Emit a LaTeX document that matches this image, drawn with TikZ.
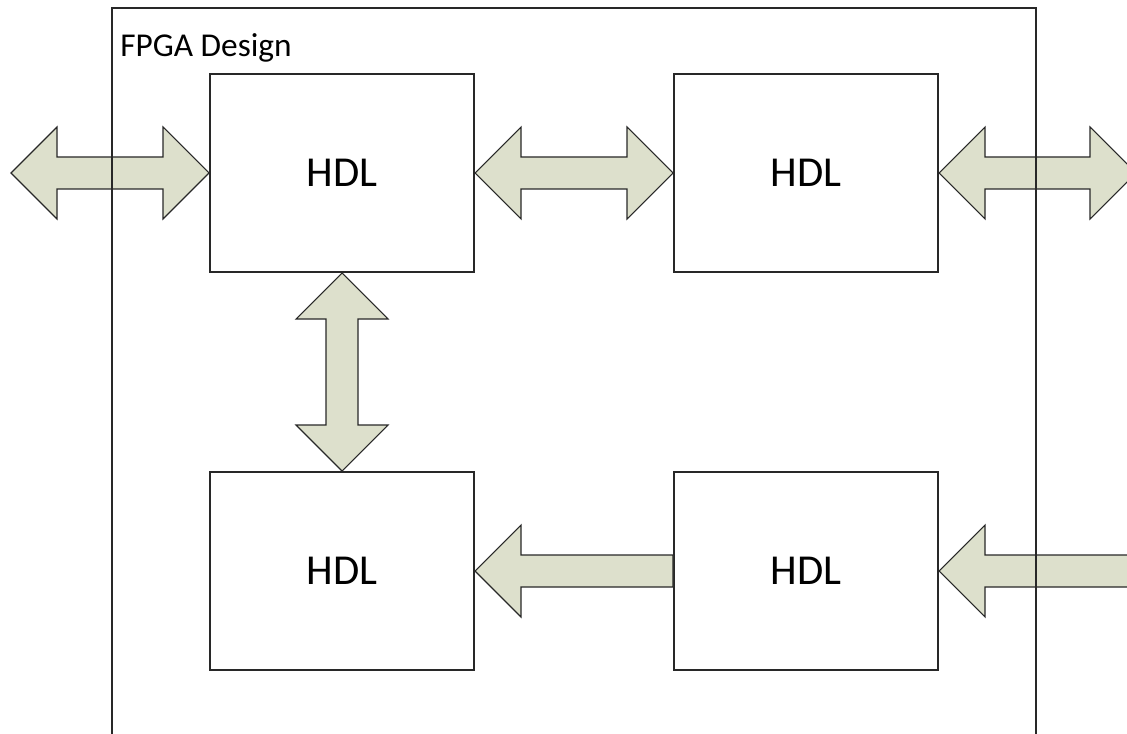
\documentclass[tikz,border=0pt]{standalone}
\usepackage{fontspec}
\setmainfont{Carlito}
\usepackage{tikz}
\usetikzlibrary{positioning,calc}

\definecolor{arrowfill}{RGB}{221,224,204}
\definecolor{edgegray}{RGB}{40,40,40}

% block arrows between two points (pixel units)
\newcommand{\harrowboth}[2]{%
  \filldraw[blockarrow] (#1) -- ($(#1)+(46,-46)$) -- ($(#1)+(46,-16)$) -- ($(#2)+(-46,-16)$)
    -- ($(#2)+(-46,-46)$) -- (#2) -- ($(#2)+(-46,46)$) -- ($(#2)+(-46,16)$)
    -- ($(#1)+(46,16)$) -- ($(#1)+(46,46)$) -- cycle;}
\newcommand{\harrowleft}[2]{%
  \filldraw[blockarrow] (#1) -- ($(#1)+(46,-46)$) -- ($(#1)+(46,-16)$) -- ($(#2)+(0,-16)$)
    -- ($(#2)+(0,16)$) -- ($(#1)+(46,16)$) -- ($(#1)+(46,46)$) -- cycle;}
\newcommand{\varrowboth}[2]{%
  \filldraw[blockarrow] (#1) -- ($(#1)+(46,46)$) -- ($(#1)+(16,46)$) -- ($(#2)+(16,-46)$)
    -- ($(#2)+(46,-46)$) -- (#2) -- ($(#2)+(-46,-46)$) -- ($(#2)+(-16,-46)$)
    -- ($(#1)+(-16,46)$) -- ($(#1)+(-46,46)$) -- cycle;}

\begin{document}
\begin{tikzpicture}[
    x=0.75pt,y=-0.75pt,
    node distance=148.5pt and 148.5pt,
    hdl/.style={draw=edgegray,line width=1.5pt,minimum width=198pt,minimum height=148.5pt,
                inner sep=0pt,font=\fontsize{32}{38}\selectfont},
    blockarrow/.style={fill=arrowfill,draw=edgegray,line width=0.8pt,line join=miter},
    frame/.style={draw=edgegray,line width=1.5pt}
]
\fill[white] (0,0) rectangle (1127,734);
\useasboundingbox (0,0) rectangle (1127,734);
\clip (0,0) rectangle (1127,734);

\node[hdl] (hdlA) at (342,173) {\raisebox{-2pt}{HDL}};
\node[hdl,right=of hdlA] (hdlB) {\raisebox{-2pt}{HDL}};
\node[hdl,below=of hdlA] (hdlC) {\raisebox{-2pt}{HDL}};
\node[hdl,below=of hdlB] (hdlD) {\raisebox{-2pt}{HDL}};

\coordinate (inL) at ($(hdlA.west)+(-198,0)$);
\coordinate (outR) at ($(hdlB.east)+(197,0)$);
\coordinate (inR) at ($(hdlD.east)+(210,0)$);

\harrowboth{inL}{hdlA.west}
\harrowboth{hdlA.east}{hdlB.west}
\harrowboth{hdlB.east}{outR}
\varrowboth{hdlA.south}{hdlC.north}
\harrowleft{hdlC.east}{hdlD.west}
\harrowleft{hdlD.east}{inR}

% design boundary, open at the bottom
\draw[frame] (112,745) |- (1036,8) -- (1036,745);
\node[anchor=base west,inner sep=0pt,font=\fontsize{25}{30}\selectfont] (title) at (120,57) {FPGA Design};
\end{tikzpicture}
\end{document}
